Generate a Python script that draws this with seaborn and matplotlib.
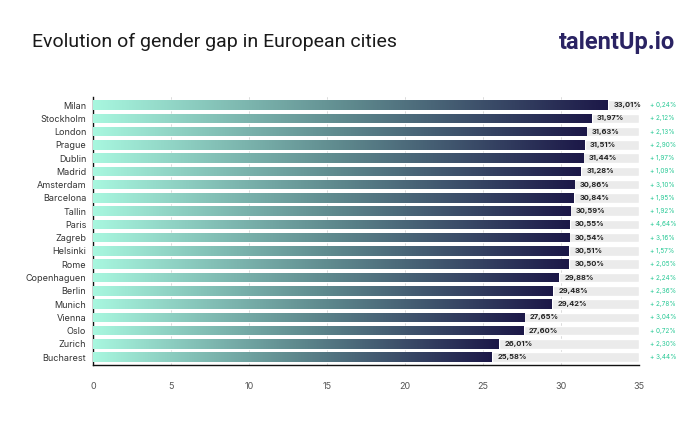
import numpy as np
import pandas as pd
import matplotlib
matplotlib.use("Agg")
import matplotlib.pyplot as plt
import seaborn as sns
from matplotlib.colors import LinearSegmentedColormap

cities = ["Milan", "Stockholm", "London", "Prague", "Dublin", "Madrid", "Amsterdam",
          "Barcelona", "Tallin", "Paris", "Zagreb", "Helsinki", "Rome", "Copenhaguen",
          "Berlin", "Munich", "Vienna", "Oslo", "Zurich", "Bucharest"]
gap = [33.01, 31.97, 31.63, 31.51, 31.44, 31.28, 30.86, 30.84, 30.59, 30.55,
       30.54, 30.51, 30.50, 29.88, 29.48, 29.42, 27.65, 27.60, 26.01, 25.58]
change = [0.24, 2.12, 2.13, 2.90, 1.97, 1.09, 3.10, 1.95, 1.92, 4.64,
          3.16, 1.57, 2.05, 2.24, 2.36, 2.78, 3.04, 0.72, 2.30, 3.44]
x_max = 35
x_ticks = [0, 5, 10, 15, 20, 25, 30, 35]

df = pd.DataFrame({"city": cities, "gap": gap, "change": change, "full": x_max})

sns.set_style("white")
plt.rcParams["font.family"] = ["Inter", "DejaVu Sans"]

fig = plt.figure(figsize=(6.9, 4.24), dpi=100)
ax = fig.add_axes([0.135, 0.139, 0.791, 0.632])

# background bars
sns.barplot(data=df, y="city", x="full", color="#ebebeb", width=0.72,
            saturation=1, ax=ax, zorder=1)
n_bg = len(ax.patches)
sns.barplot(data=df, y="city", x="gap", color="#ffffff", width=0.72,
            saturation=1, ax=ax, zorder=2)
bars = ax.patches[n_bg:]

cmap = LinearSegmentedColormap.from_list("g", ["#a8f7df", "#5f8a8e", "#1c1848"])
grad = np.linspace(0, 1, 256).reshape(1, -1)
for p in bars:
    x0, y0 = p.get_x(), p.get_y()
    w, h = p.get_width(), p.get_height()
    im = ax.imshow(grad, cmap=cmap, aspect="auto", extent=[x0, x0 + w, y0 + h, y0],
                   zorder=3, interpolation="bicubic")
    im.set_clip_path(p)
    p.set_facecolor("none")

for i, (g, c) in enumerate(zip(gap, change)):
    ax.text(g + 0.35, i, f"{g:.2f}%".replace(".", ","), va="center", ha="left",
            fontsize=5.4, fontweight="bold", color="#222222", zorder=5)
    ax.text(x_max + 0.7, i, f"+ {c:.2f}%".replace(".", ","), va="center", ha="left",
            fontsize=4.6, color="#27c995", zorder=5)

ax.set_xlim(0, x_max)
ax.set_ylim(len(cities) - 0.5 + 0.1, -0.6)
ax.set_xticks(x_ticks)
ax.set_xticklabels([str(t) for t in x_ticks], fontsize=6.5, color="#555555")
for t in x_ticks[1:-1]:
    ax.axvline(t, color="#d5d5d5", lw=0.6, zorder=0.5)
ax.tick_params(axis="x", direction="in", length=4, width=1, color="#111111", pad=12)
ax.tick_params(axis="y", length=0, labelsize=6.5, labelcolor="#333333", pad=5)
ax.set_xlabel("")
ax.set_ylabel("")
for s in ["top", "right"]:
    ax.spines[s].set_visible(False)
ax.spines["left"].set_color("#111111")
ax.spines["bottom"].set_color("#111111")
ax.spines["left"].set_linewidth(1)
ax.spines["bottom"].set_linewidth(1)

fig.text(0.046, 0.9, "Evolution of gender gap in European cities", fontsize=14,
         color="#1a1a1a", va="center", ha="left", family=["Roboto", "DejaVu Sans"])
fig.text(0.978, 0.9, "talentUp.io", fontsize=17, fontweight="bold", color="#2a2363",
         va="center", ha="right", family=["Roboto", "DejaVu Sans"])

fig.savefig("out.png", dpi=100)
